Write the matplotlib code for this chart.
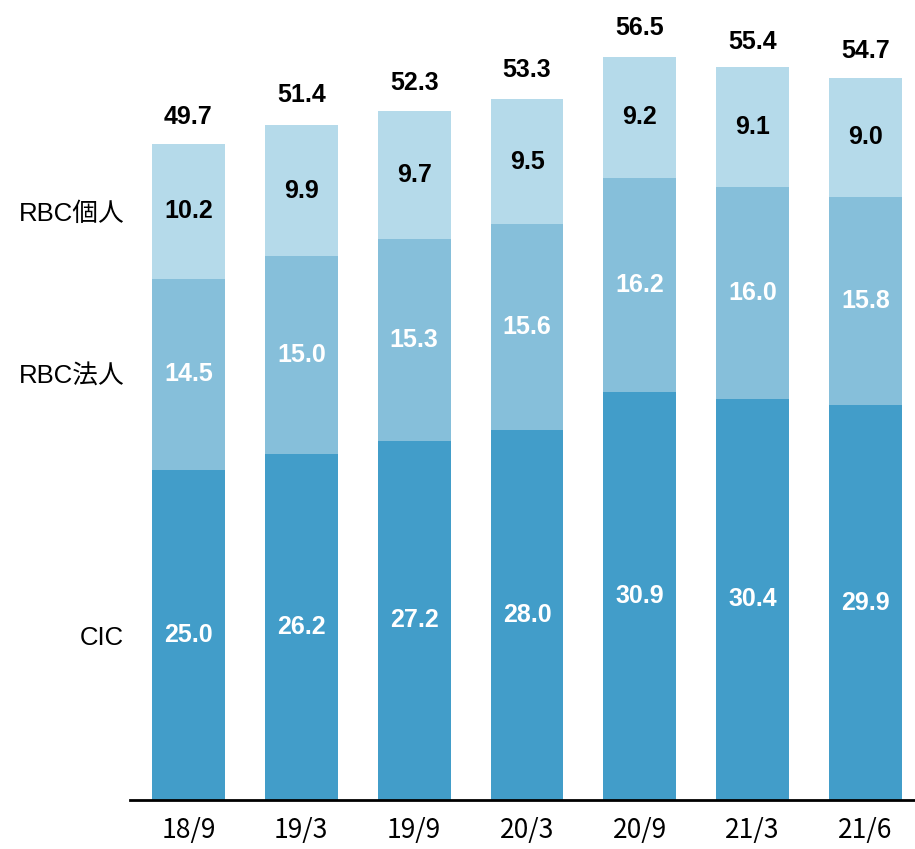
import numpy as np
import matplotlib.pyplot as plt

periods = ["18/9", "19/3", "19/9", "20/3", "20/9", "21/3", "21/6"]
cic = [25.0, 26.2, 27.2, 28.0, 30.9, 30.4, 29.9]
rbc_corp = [14.5, 15.0, 15.3, 15.6, 16.2, 16.0, 15.8]
rbc_ind = [10.2, 9.9, 9.7, 9.5, 9.2, 9.1, 9.0]
totals = [49.7, 51.4, 52.3, 53.3, 56.5, 55.4, 54.7]
series_names = ["CIC", "RBC法人", "RBC個人"]

colors = ["#429dc9", "#86bfda", "#b5daea"]
text_colors = ["white", "white", "black"]
num_font = ["Liberation Sans Narrow", "Liberation Sans", "DejaVu Sans"]
jp_font = ["Noto Sans CJK JP", "DejaVu Sans"]

fig = plt.figure(figsize=(9.15, 8.49), dpi=100)
ax = fig.add_axes([130 / 915, 49 / 849, 785 / 915, 800 / 849])

x = np.arange(len(periods))
w = 0.646
bottom = np.zeros(len(periods))
for vals, c, tc in zip([cic, rbc_corp, rbc_ind], colors, text_colors):
    vals = np.array(vals)
    ax.bar(x, vals, w, bottom=bottom, color=c, edgecolor="none")
    for xi, b, v in zip(x, bottom, vals):
        ax.text(xi, b + v / 2, f"{v:.1f}", ha="center", va="center",
                color=tc, fontsize=18, fontweight="bold", family=num_font)
    bottom += vals

for xi, t in zip(x, totals):
    ax.text(xi, t + 1.1, f"{t:.1f}", ha="center", va="bottom",
            color="black", fontsize=18, fontweight="bold", family=num_font)

# series names on the left, level with the first bar's segments
first = [cic[0], rbc_corp[0], rbc_ind[0]]
mids = np.cumsum(first) - np.array(first) / 2
for name, m in zip(series_names, mids):
    ax.text(-0.57, m - 0.2, name, ha="right", va="center", fontsize=18.5,
            family=["Liberation Sans", "Noto Sans CJK JP"], clip_on=False)

ax.set_xlim(-0.518, 6.438)
ax.set_ylim(0, 60.6)
ax.set_xticks(x)
ax.set_xticklabels(periods, fontsize=19, family=jp_font)
ax.tick_params(axis="x", length=0, pad=12)
ax.set_yticks([])
for s in ["top", "right", "left"]:
    ax.spines[s].set_visible(False)
ax.spines["bottom"].set_linewidth(2)

fig.savefig("out.png", dpi=100)
